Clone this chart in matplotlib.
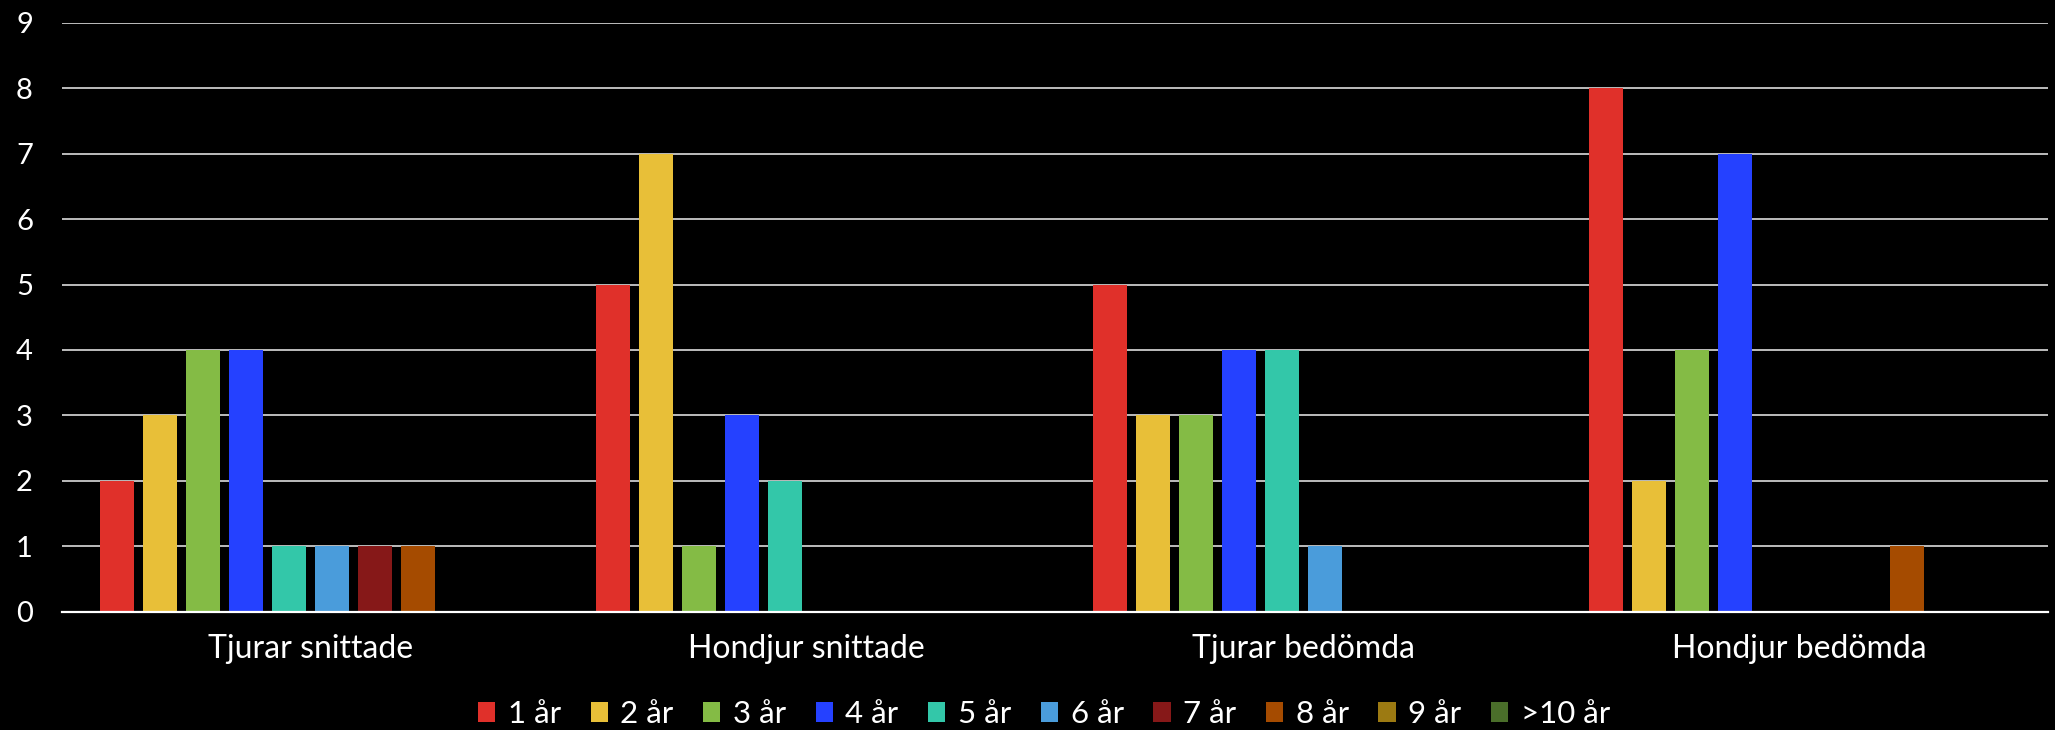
import numpy as np
import matplotlib
matplotlib.use("Agg")
import matplotlib.pyplot as plt

plt.rcParams['font.family'] = ['Lato', 'DejaVu Sans']

# data
categories = ["Tjurar snittade", "Hondjur snittade", "Tjurar bedömda", "Hondjur bedömda"]
series = ["1 år", "2 år", "3 år", "4 år", "5 år", "6 år", "7 år", "8 år", "9 år", ">10 år"]
# values per age class, one list per series (order: categories)
ar1 = [2, 5, 5, 8]
ar2 = [3, 7, 3, 2]
ar3 = [4, 1, 3, 4]
ar4 = [4, 3, 4, 7]
ar5 = [1, 2, 4, 0]
ar6 = [1, 0, 1, 0]
ar7 = [1, 0, 0, 0]
ar8 = [1, 0, 0, 1]
ar9 = [0, 0, 0, 0]
ar10 = [0, 0, 0, 0]
values = [ar1, ar2, ar3, ar4, ar5, ar6, ar7, ar8, ar9, ar10]

colors = ["#E0302A", "#E8BF38", "#84BB45", "#2541FF", "#33C7A9",
          "#4A9CDB", "#861818", "#A54B00", "#9C7A12", "#4A6E2A"]

fig = plt.figure(figsize=(20.55, 7.3), dpi=100, facecolor="black")
ax = fig.add_axes([0.0302, 0.1623, 0.9664, 0.8062])
ax.set_facecolor("black")

x = np.arange(len(categories))
step = 43 / 496.5
width = 34 / 496.5
for i, (name, vals) in enumerate(zip(series, values)):
    ax.bar(x + (i - 4.5) * step, vals, width=width, color=colors[i],
           label=name, zorder=3)

ax.set_xlim(-0.5, len(categories) - 0.5)
ax.set_ylim(0, 9)
ax.set_yticks(range(0, 10))
ax.set_xticks(x)
ax.set_xticklabels(categories)

ax.grid(axis="y", color="#f0f0f0", linewidth=1.1, zorder=1)
for s in ["top", "right", "left"]:
    ax.spines[s].set_visible(False)
ax.spines["bottom"].set_color("white")
ax.spines["bottom"].set_linewidth(1.6)
ax.spines["bottom"].set_zorder(4)

ax.tick_params(axis="y", length=0, pad=21, colors="white", labelsize=21)
ax.tick_params(axis="x", length=0, pad=16, colors="white", labelsize=23)

leg = fig.legend(loc="center", bbox_to_anchor=(0.508, 0.022), ncol=10,
                 frameon=False, fontsize=22.5, handlelength=0.55, handleheight=0.6,
                 handletextpad=0.4, columnspacing=0.95, borderpad=0)
for t in leg.get_texts():
    t.set_color("white")

fig.savefig("out.png", dpi=100, facecolor="black")
